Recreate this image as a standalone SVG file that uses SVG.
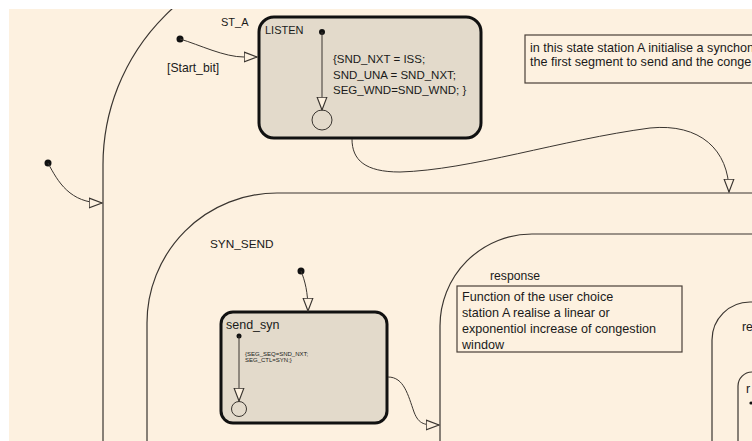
<svg xmlns="http://www.w3.org/2000/svg" width="752" height="441" viewBox="0 0 752 441">
<defs>
<style>
.st{fill:none;stroke:#3a3530;stroke-width:1.2}
.box{fill:#e3dacb;stroke:#111;stroke-width:3}
.tr{fill:none;stroke:#3a3530;stroke-width:1}
.t{font-family:"Liberation Sans",Arial,sans-serif;font-size:11px;fill:#1a1a1a}
.nt{font-family:"Liberation Sans",Arial,sans-serif;font-size:12.6px;fill:#1a1a1a}
.lb{font-family:"Liberation Sans",Arial,sans-serif;font-size:12.2px;fill:#1a1a1a}
.note{fill:none;stroke:#4a4038;stroke-width:1.2}
.dot{fill:#111}
</style>
<marker id="arr" markerUnits="userSpaceOnUse" markerWidth="14" markerHeight="12" viewBox="0 0 12 10" refX="11.5" refY="5" orient="auto">
<path d="M0.5,0.8 L11.5,5 L0.5,9.2 Z" fill="#fdf1e0" stroke="#3a3530" stroke-width="1"/>
</marker>
<clipPath id="cv"><rect x="9" y="9" width="743" height="432"/></clipPath>
</defs>
<rect width="752" height="441" fill="#ffffff"/>
<rect x="9" y="9" width="743" height="432" fill="#fdf1e0"/>
<g clip-path="url(#cv)">
<g id="ST_A">
<path class="st" d="M103,441 L103,165 A211,211 0 0 1 314,-46 L760,-46"/>
<text class="t" x="221" y="26">ST_A</text>
</g>
<g id="LISTEN">
<rect class="box" x="259" y="17" width="222" height="121" rx="15"/>
<text class="t" x="265" y="34">LISTEN</text>
<circle class="dot" cx="322" cy="32" r="3"/>
<path class="tr" d="M322,32 L322,110" marker-end="url(#arr)"/>
<circle cx="322" cy="120" r="10" fill="none" stroke="#3a3530" stroke-width="1"/>
<text class="t" x="333" y="63" style="font-size:11.5px">{SND_NXT = ISS;</text>
<text class="t" x="333" y="79" style="font-size:11.5px">SND_UNA = SND_NXT;</text>
<text class="t" x="333" y="94" style="font-size:11.5px">SEG_WND=SND_WND; }</text>
</g>
<g id="note1">
<rect class="note" x="525" y="35" width="240" height="48"/>
<text class="nt" x="530" y="52">in this state station A initialise a synchon</text>
<text class="nt" x="530" y="66">the first segment to send and the conge</text>
</g>
<g id="SYN_SEND">
<path class="st" d="M147,441 L147,323 A130,130 0 0 1 277,193 L760,193"/>
<text class="lb" x="210" y="248" style="font-size:11.8px">SYN_SEND</text>
</g>
<g id="send_syn">
<rect class="box" x="221" y="312" width="166" height="111" rx="12"/>
<text class="t" x="226" y="329" style="font-size:12.5px">send_syn</text>
<circle class="dot" cx="239" cy="336" r="2.5"/>
<path class="tr" d="M239,336 L239,401" marker-end="url(#arr)"/>
<circle cx="239" cy="409" r="7.5" fill="none" stroke="#3a3530" stroke-width="1"/>
<text class="t" x="245" y="356" style="font-size:6px">{SEG_SEQ=SND_NXT;</text>
<text class="t" x="245" y="362" style="font-size:6px">SEG_CTL=SYN;}</text>
</g>
<g id="response">
<path class="st" d="M440,441 L440,326 A92,92 0 0 1 532,234 L760,234"/>
<text class="lb" x="490" y="280">response</text>
</g>
<g id="note2">
<rect class="note" x="457" y="286" width="225" height="66"/>
<text class="nt" x="462" y="301">Function of the user choice</text>
<text class="nt" x="462" y="317">station A realise a linear or</text>
<text class="nt" x="462" y="333">exponentiol increase of congestion</text>
<text class="nt" x="462" y="349">window</text>
</g>
<g id="re_state">
<path class="st" d="M712,441 L712,340 A38,38 0 0 1 750,302 L760,302"/>
<text class="lb" x="742" y="331">re</text>
</g>
<g id="r_state">
<path class="st" d="M738,441 L738,386 A14,14 0 0 1 752,372 L760,372"/>
<text class="t" x="746" y="393" style="font-size:12.5px">r</text>
<circle class="dot" cx="751" cy="403" r="1.6"/>
</g>
<g id="connectors">
<circle class="dot" cx="180" cy="39" r="3.5"/>
<path class="tr" d="M180,39 C200,45 224,57 244,57 L257,57" marker-end="url(#arr)"/>
<text class="lb" x="167" y="72">[Start_bit]</text>
<circle class="dot" cx="48" cy="163" r="3.5"/>
<path class="tr" d="M48,163 C58,182 70,203 102,203" marker-end="url(#arr)"/>
<path class="tr" d="M352,139 C352,160 365,172 400,172 C470,170 560,140 650,128 C700,123 729,150 729,192" marker-end="url(#arr)"/>
<circle class="dot" cx="301" cy="271" r="3.5"/>
<path class="tr" d="M301,271 C305,281 308,292 308,311" marker-end="url(#arr)"/>
<path class="tr" d="M388,377 C404,377 408,395 414,412 C419,425 425,425 439,425" marker-end="url(#arr)"/>
</g>
</g>
</svg>
